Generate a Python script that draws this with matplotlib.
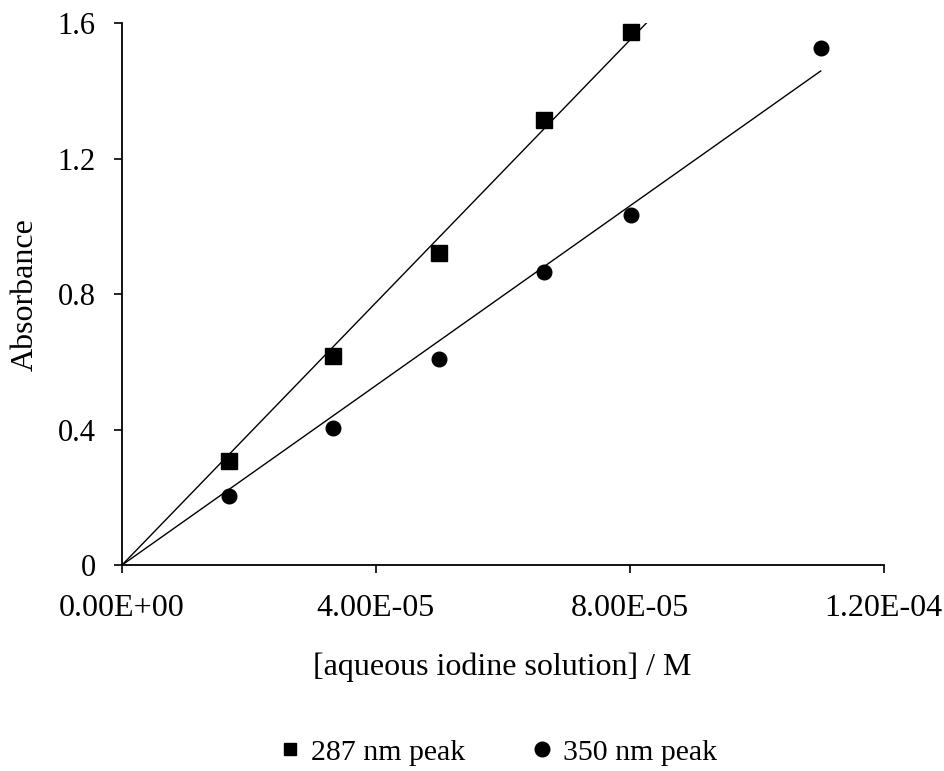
import numpy as np
import matplotlib
matplotlib.use("Agg")
import matplotlib.pyplot as plt
from matplotlib.lines import Line2D
from matplotlib.ticker import FixedLocator, FuncFormatter

plt.rcParams['font.family'] = ['Liberation Serif', 'DejaVu Serif']

# concentration of aqueous iodine solution / M
conc_287 = np.array([1.68e-5, 3.32e-5, 5.00e-5, 6.65e-5, 8.02e-5])
abs_287 = np.array([0.308, 0.616, 0.921, 1.315, 1.575])

conc_350 = np.array([1.68e-5, 3.32e-5, 5.00e-5, 6.65e-5, 8.02e-5, 1.101e-4])
abs_350 = np.array([0.205, 0.406, 0.608, 0.865, 1.034, 1.527])

x_ticks = [0, 4e-5, 8e-5, 1.2e-4]
y_ticks = [0, 0.4, 0.8, 1.2, 1.6]


def slope_origin(x, y):
    # least squares line forced through zero
    return np.sum(x * y) / np.sum(x * x)


fig = plt.figure(figsize=(9.45, 7.71), dpi=100)
ax = fig.add_axes([0.129, 0.267, 0.806, 0.703])

m1 = slope_origin(conc_287, abs_287)
m2 = slope_origin(conc_350, abs_350)

xl1 = np.array([0, conc_287.max() * 1.05])
xl2 = np.array([0, conc_350.max()])
ax.plot(xl1, m1 * xl1, color='black', lw=1.0)
ax.plot(xl2, m2 * xl2, color='black', lw=1.0)

ax.plot(conc_287, abs_287, 's', color='black', ms=11, clip_on=False)
ax.plot(conc_350, abs_350, 'o', color='black', ms=10.5, clip_on=False)

ax.set_xlim(0, 1.2e-4)
ax.set_ylim(0, 1.6)
ax.xaxis.set_major_locator(FixedLocator(x_ticks))
ax.yaxis.set_major_locator(FixedLocator(y_ticks))
ax.xaxis.set_major_formatter(FuncFormatter(lambda v, p: f"{v:.2E}"))
ax.yaxis.set_major_formatter(FuncFormatter(lambda v, p: f"{v:g}"))

for s in ['top', 'right']:
    ax.spines[s].set_visible(False)
for s in ['left', 'bottom']:
    ax.spines[s].set_linewidth(1.3)

ax.tick_params(axis='x', direction='out', length=6, width=1.2, pad=15, labelsize=23)
ax.tick_params(axis='y', direction='out', length=6, width=1.2, pad=13, labelsize=22)

ax.set_xlabel('[aqueous iodine solution] / M', fontsize=23, labelpad=21)
ax.set_ylabel('Absorbance', fontsize=23, labelpad=13)

handles = [
    Line2D([], [], ls='none', marker='s', color='black', ms=9),
    Line2D([], [], ls='none', marker='o', color='black', ms=10.5),
]
ax.legend(handles, ['287 nm peak', '350 nm peak'], loc='center',
          bbox_to_anchor=(0.495, -0.345), ncol=2, frameon=False,
          fontsize=21.5, handlelength=0.6, handletextpad=0.4,
          columnspacing=2.3)

fig.savefig('out.png', dpi=100)
